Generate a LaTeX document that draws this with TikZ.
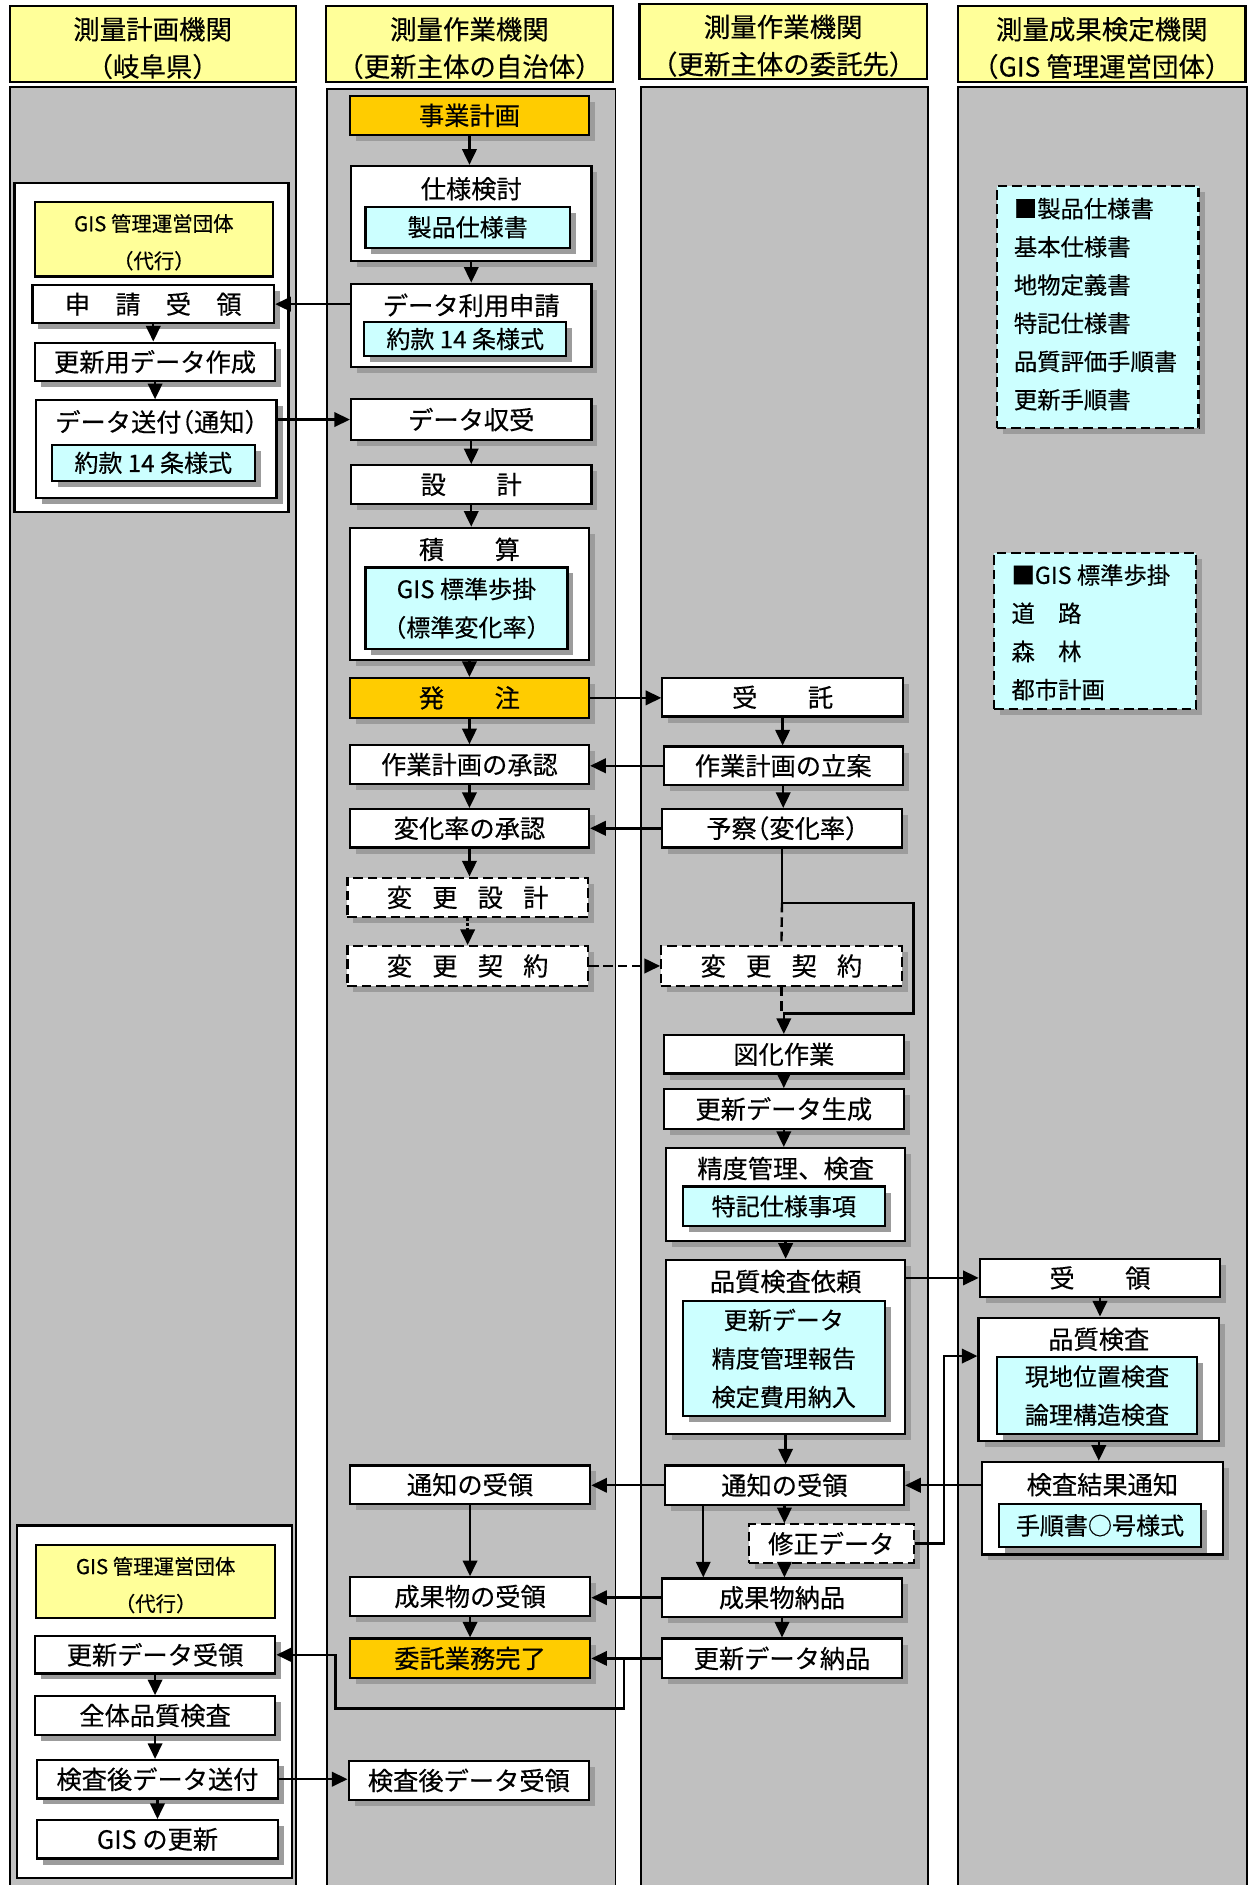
\documentclass[tikz,border=0pt]{standalone}
\usepackage{fontspec}
\setmainfont{Noto Sans CJK JP}[UprightFeatures={FakeBold=0.35}]
\usetikzlibrary{arrows.meta,shadows}
\definecolor{yelc}{HTML}{FFFF99}
\definecolor{orangec}{HTML}{FFCC00}
\definecolor{cyanc}{HTML}{CCFFFF}
\definecolor{lanec}{HTML}{C0C0C0}
\definecolor{shd}{HTML}{9C9C9C}
\newcommand\fsmain{\fontsize{10.5}{15}\selectfont}
\newcommand\fsinner{\fontsize{10}{16}\selectfont}
\newcommand\fshead{\fontsize{11}{15.5}\selectfont}
\newcommand\fssmall{\fontsize{8.5}{15.5}\selectfont}
\newcommand\fslist{\fontsize{9.7}{15.9}\selectfont}
\newcommand\lpar{{\addfontfeature{RawFeature=+halt}（}}
\newcommand\rpar{{\addfontfeature{RawFeature=+halt}）}}
\newcommand\gp{\hspace{0.8em}}
\tikzset{
 base/.style={draw=black, line width=0.9pt, inner sep=0pt, align=center},
 wh/.style 2 args={minimum width=#1*0.5pt, minimum height=#2*0.5pt},
 sh/.style={drop shadow={shadow xshift=2.5pt, shadow yshift=-2.5pt, fill=shd, opacity=1}},
 box/.style={base, fill=white, sh, font=\fsmain},
 obox/.style={box, fill=orangec},
 dbox/.style={box, dash pattern=on 4pt off 2pt},
 cbox/.style={base, fill=cyanc, sh, font=\fsinner},
 ybox/.style={base, fill=yelc},
 ytxt/.style={inner sep=0pt, align=center, font=\fssmall},
 hbox/.style={base, fill=yelc},
 htxt/.style={inner sep=0pt, align=center, font=\fshead},
 lane/.style={draw=black, line width=0.8pt, fill=lanec},
 grp/.style={draw=black, line width=0.9pt, fill=white},
 lbox/.style={base, fill=cyanc, dash pattern=on 4pt off 2pt, sh},
 ttl/.style={inner sep=0pt, font=\fsmain},
 ltxt/.style={inner sep=0pt, align=left, font=\fslist, anchor=west},
 arr/.style={line width=1pt, -{Triangle[length=6.5pt,width=6pt]}},
 darr/.style={arr, dash pattern=on 4pt off 2pt},
 oarr/.style={arr, dash pattern=on 1pt off 1pt},
 ln/.style={line width=1pt},
 dln/.style={line width=1pt, dash pattern=on 4pt off 2pt},
}
\begin{document}
\begin{tikzpicture}[x=0.5pt,y=-0.5pt]
\useasboundingbox (0,0) rectangle (1039,1568);
% lanes
\draw[lane] (8,72) rectangle (246,1580);
\draw[lane] (272,74) rectangle (512,1580);
\draw[lane] (533,72) rectangle (772,1580);
\draw[lane] (797,72) rectangle (1037,1580);
% headers
\node[hbox, wh={238}{63}] (h1) at (127,36.5) {};
\node[htxt] (h1t) at (127,40) {測量計画機関\\\lpar 岐阜県\rpar};
\node[hbox, wh={239}{63}] (h2) at (390.5,36.5) {};
\node[htxt] (h2t) at (390.5,40) {測量作業機関\\\lpar 更新主体の自治体\rpar};
\node[hbox, wh={239}{63}] (h3) at (651.5,34.5) {};
\node[htxt] (h3t) at (651.5,38) {測量作業機関\\\lpar 更新主体の委託先\rpar};
\node[hbox, wh={239}{63}] (h4) at (916.5,36.5) {};
\node[htxt] (h4t) at (916.5,40) {測量成果検定機関\\\lpar GIS 管理運営団体\rpar};
% group boxes lane 1
\draw[grp] (12,152) rectangle (240,426);
\draw[grp] (14,1269) rectangle (243,1562);
% lane 1 nodes
\node[ybox, wh={198}{62}] (daiko1) at (128,199) {};
\node[ytxt] (daiko1t) at (128,201.5) {GIS 管理運営団体\\\lpar 代行\rpar};
\node[box, wh={201}{32}] (shinsei) at (127.5,253) {申　請　受　領};
\node[box, wh={200}{32}] (sakusei) at (129,301) {更新用データ作成};
\node[box, wh={200}{81}] (sofu) at (130,373.5) {};
\node[ttl] (sofuT) at (130,351) {データ送付\lpar 通知\rpar};
\node[cbox, wh={169}{30}] (yakkan2) at (127.5,385) {約款 14 条様式};
\node[ybox, wh={199}{61}] (daiko2) at (129.5,1315.5) {};
\node[ytxt] (daiko2t) at (129.5,1318.5) {GIS 管理運営団体\\\lpar 代行\rpar};
\node[box, wh={200}{31}] (kdjuryo) at (129,1376.5) {更新データ受領};
\node[box, wh={200}{32}] (zentai) at (129,1427) {全体品質検査};
\node[box, wh={200}{32}] (kensasofu) at (131,1480) {検査後データ送付};
\node[box, wh={200}{32}] (gisupd) at (131,1530) {GIS の更新};
% lane 2 nodes
\node[obox, wh={199}{32}] (jigyo) at (390.5,96) {事業計画};
\node[box, wh={200}{79}] (shiyo) at (392,177.5) {};
\node[ttl] (shiyoT) at (392,157) {仕様検討};
\node[cbox, wh={170}{34}] (seihin) at (389,189) {製品仕様書};
\node[box, wh={200}{69}] (riyo) at (392,270.5) {};
\node[ttl] (riyoT) at (392,254) {データ利用申請};
\node[cbox, wh={168}{28}] (yakkan1) at (387,282) {約款 14 条様式};
\node[box, wh={200}{34}] (shuju) at (392,349) {データ収受};
\node[box, wh={200}{32}] (sekkei) at (392,403) {設　　計};
\node[box, wh={199}{110}] (sekisan) at (390.5,494) {};
\node[ttl] (sekisanT) at (390.5,457) {積　　算};
\node[cbox, wh={168}{68}] (buga) at (388,506) {GIS 標準歩掛\\\lpar 標準変化率\rpar};
\node[obox, wh={199}{33}] (hacchu) at (390.5,580.5) {発　　注};
\node[box, wh={199}{32}] (shonin1) at (390.5,636) {作業計画の承認};
\node[box, wh={199}{32}] (shonin2) at (390.5,689) {変化率の承認};
\node[dbox, wh={200}{33}] (hsekkei) at (389,746.5) {変\gp 更\gp 設\gp 計};
\node[dbox, wh={200}{33}] (hkeiyaku2) at (389,803.5) {変\gp 更\gp 契\gp 約};
\node[box, wh={200}{32}] (tsuchi2) at (391,1235) {通知の受領};
\node[box, wh={200}{32}] (seika2) at (391,1328) {成果物の受領};
\node[obox, wh={200}{33}] (kanryo) at (391,1379.5) {委託業務完了};
\node[box, wh={200}{32}] (kensago2) at (390,1481) {検査後データ受領};
% lane 3 nodes
\node[box, wh={200}{32}] (jutaku) at (651,580) {受　　託};
\node[box, wh={199}{32}] (ritsuan) at (651.5,637) {作業計画の立案};
\node[box, wh={199}{32}] (yosatsu) at (650.5,689) {予察\lpar 変化率\rpar};
\node[dbox, wh={200}{33}] (hkeiyaku3) at (650,803.5) {変\gp 更\gp 契\gp 約};
\node[box, wh={200}{32}] (zuka) at (652,877) {図化作業};
\node[box, wh={200}{33}] (seisei) at (652,922.5) {更新データ生成};
\node[box, wh={199}{77}] (seido) at (653.5,993.5) {};
\node[ttl] (seidoT) at (653.5,972) {精度管理、検査};
\node[cbox, wh={168}{33}] (tokki) at (652,1003.5) {特記仕様事項};
\node[box, wh={199}{145}] (irai) at (653.5,1120.5) {};
\node[ttl] (iraiT) at (653.5,1066) {品質検査依頼};
\node[cbox, wh={168}{96}] (iraiC) at (652,1130) {更新データ\\精度管理報告\\検定費用納入};
\node[box, wh={199}{33}] (tsuchi3) at (652.5,1235.5) {通知の受領};
\node[dbox, wh={137}{32}] (shusei) at (691.5,1284) {修正データ};
\node[box, wh={199}{32}] (nohin) at (650.5,1329) {成果物納品};
\node[box, wh={199}{33}] (kdnohin) at (650.5,1379.5) {更新データ納品};
% lane 4 nodes
\node[lbox, wh={168}{201}] (list1) at (913,255.5) {};
\node[ltxt] (list1T) at (843,253) {■製品仕様書\\基本仕様書\\地物定義書\\特記仕様書\\品質評価手順書\\更新手順書};
\node[lbox, wh={168}{130}] (list2) at (911,525) {};
\node[ltxt] (list2T) at (841,526) {■GIS 標準歩掛\\道　路\\森　林\\都市計画};
\node[box, wh={200}{32}] (ryo4) at (915,1063) {受　　領};
\node[box, wh={200}{103}] (hinshitsu) at (914,1147.5) {};
\node[ttl] (hinshitsuT) at (914,1114) {品質検査};
\node[cbox, wh={167}{64}] (hinC) at (912.5,1161) {現地位置検査\\論理構造検査};
\node[box, wh={200}{77}] (kekka) at (917,1254.5) {};
\node[ttl] (kekkaT) at (917,1235) {検査結果通知};
\node[cbox, wh={168}{36}] (tejun) at (915,1269) {手順書○号様式};
% coordinates
\coordinate (lp1) at (760,751);
\coordinate (lp2) at (760,843);
\coordinate (sq) at (785,1128);
\coordinate (t3a) at ([xshift=-33.75pt]tsuchi3.south);
\coordinate (b1) at ([xshift=-15.5pt]kdnohin.west);
\coordinate (b2) at (279,1421);
% lane 1 arrows
\draw[arr] (shinsei.south) -- (shinsei.south |- sakusei.north);
\draw[arr] (sakusei.south) -- (sakusei.south |- sofu.north);
\draw[arr] (kdjuryo.south) -- (kdjuryo.south |- zentai.north);
\draw[arr] (zentai.south) -- (zentai.south |- kensasofu.north);
\draw[arr] (kensasofu.south) -- (kensasofu.south |- gisupd.north);
% lane 2 arrows
\draw[arr] (jigyo.south) -- (jigyo.south |- shiyo.north);
\draw[arr] (shiyo.south) -- (shiyo.south |- riyo.north);
\draw[arr] (shuju.south) -- (shuju.south |- sekkei.north);
\draw[arr] (sekkei.south) -- (sekkei.south |- sekisan.north);
\draw[arr] (sekisan.south) -- (sekisan.south |- hacchu.north);
\draw[arr] (hacchu.south) -- (hacchu.south |- shonin1.north);
\draw[arr] (shonin1.south) -- (shonin1.south |- shonin2.north);
\draw[arr] (shonin2.south) -- (shonin2.south |- hsekkei.north);
\draw[oarr] (hsekkei.south) -- (hsekkei.south |- hkeiyaku2.north);
\draw[arr] (tsuchi2.south) -- (tsuchi2.south |- seika2.north);
\draw[arr] (seika2.south) -- (seika2.south |- kanryo.north);
% lane 3 arrows
\draw[arr] (jutaku.south) -- (jutaku.south |- ritsuan.north);
\draw[arr] (ritsuan.south) -- (ritsuan.south |- yosatsu.north);
\draw[arr] (yosatsu.south) |- (lp1) -- (lp2) -| (zuka.north);
\draw[dln] (yosatsu.south |- lp1) -- (hkeiyaku3.north);
\draw[dln] (hkeiyaku3.south) -- (hkeiyaku3.south |- lp2);
\draw[arr] (zuka.south) -- (zuka.south |- seisei.north);
\draw[arr] (seisei.south) -- (seisei.south |- seido.north);
\draw[arr] (seido.south) -- (seido.south |- irai.north);
\draw[arr] (irai.south) -- (irai.south |- tsuchi3.north);
\draw[arr] (tsuchi3.south) -- (tsuchi3.south |- shusei.north);
\draw[arr] (t3a) -- (t3a |- nohin.north);
\draw[arr] (tsuchi3.south |- shusei.south) -- (tsuchi3.south |- nohin.north);
\draw[arr] (nohin.south) -- (nohin.south |- kdnohin.north);
% lane 4 arrows
\draw[arr] (ryo4.south) -- (ryo4.south |- hinshitsu.north);
\draw[arr] (hinshitsu.south) -- (hinshitsu.south |- kekka.north);
% horizontal connectors
\draw[arr] (shinsei.east -| riyo.west) -- (shinsei.east);
\draw[arr] (shuju.west -| sofu.east) -- (shuju.west);
\draw[arr] (hacchu.east) -- (hacchu.east -| jutaku.west);
\draw[arr] (ritsuan.west) -- (ritsuan.west -| shonin1.east);
\draw[arr] (yosatsu.west) -- (yosatsu.west -| shonin2.east);
\draw[darr] (hkeiyaku2.east) -- (hkeiyaku3.west);
\draw[arr] (ryo4.west -| irai.east) -- (ryo4.west);
\draw[arr] (tsuchi3.east -| kekka.west) -- (tsuchi3.east);
\draw[arr] (tsuchi3.west) -- (tsuchi3.west -| tsuchi2.east);
\draw[arr] (shusei.east) -| (sq) -- (sq -| hinshitsu.west);
\draw[arr] (nohin.west) -- (nohin.west -| seika2.east);
\draw[arr] (kdnohin.west) -- (kdnohin.west -| kanryo.east);
\draw[arr] (b1) |- (b2) |- (kdjuryo.east);
\draw[arr] (kensasofu.east) -- (kensasofu.east -| kensago2.west);
\end{tikzpicture}
\end{document}
